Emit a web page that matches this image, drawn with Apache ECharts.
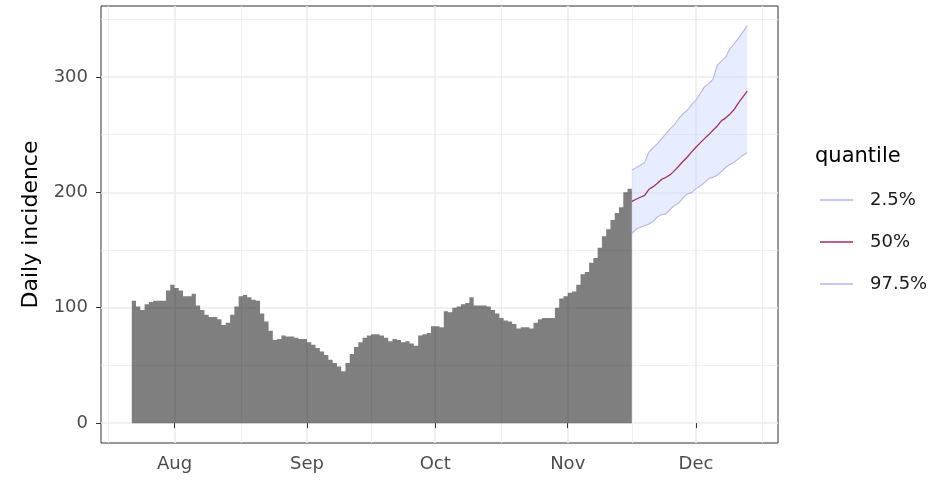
<!DOCTYPE html>
<html>
<head>
<meta charset="utf-8">
<script src="https://cdn.jsdelivr.net/npm/echarts@6/dist/echarts.min.js"></script>
<style>
  html, body { margin: 0; padding: 0; background: #ffffff; }
  #chart { width: 941px; height: 481px; }
</style>
</head>
<body>
<div id="chart"></div>
<script>
// Observed daily incidence, one count per day from the first date
const firstDay = '2020-07-22';
const incidence = [
  106, 101, 98, 103, 105, 106, 106, 106, 115, 120,
  117, 115, 110, 110, 112, 102, 98, 94, 92, 92,
  90, 85, 87, 94, 101, 110, 111, 109, 107, 106,
  95, 88, 80, 72, 73, 76, 75, 75, 74, 73,
  73, 70, 68, 65, 62, 59, 55, 52, 49, 45,
  52, 60, 66, 70, 74, 76, 77, 77, 76, 74,
  71, 73, 72, 70, 71, 69, 67, 76, 77, 78,
  84, 84, 83, 97, 96, 100, 101, 103, 104, 109,
  102, 102, 102, 101, 98, 95, 91, 89, 88, 86,
  82, 83, 83, 82, 87, 90, 91, 91, 91, 100,
  108, 110, 113, 114, 120, 129, 131, 139, 143, 152,
  162, 168, 176, 182, 187, 200, 203
];

// Projected daily incidence quantiles, one value per day from projStart
const projStart = '2020-11-16';
const q025 = [164.2, 168.0, 169.7, 171.1, 172.6, 174.9, 178.7, 180.7, 181.3, 185.3,
              188.7, 190.8, 195.1, 198.6, 199.7, 203.2, 205.5, 208.4, 211.9, 213.0,
              214.7, 218.2, 221.7, 224.3, 226.3, 229.2, 232.1, 234.4];
const q500 = [192.2, 194.0, 195.7, 197.4, 202.6, 204.9, 207.8, 211.3, 213.0, 215.3,
              218.8, 222.8, 226.9, 230.6, 235.0, 239.0, 242.8, 246.5, 250.0, 253.8,
              257.5, 262.1, 264.5, 267.9, 272.0, 277.7, 282.6, 287.6];
const q975 = [219.1, 221.4, 223.4, 225.7, 235.0, 238.4, 242.2, 246.5, 250.9, 255.2,
              258.7, 263.9, 268.2, 271.1, 276.0, 279.8, 285.6, 291.3, 294.2, 298.0,
              310.1, 313.6, 317.3, 324.6, 328.9, 333.8, 339.0, 344.2];

const quantileNames = ['2.5%', '50%', '97.5%'];

// Axis breaks
const monthBreaks = ['2020-07-01', '2020-08-01', '2020-09-01', '2020-10-01', '2020-11-01', '2020-12-01', '2021-01-01'];
const monthLabels = ['Jul', 'Aug', 'Sep', 'Oct', 'Nov', 'Dec', 'Jan'];
const yBreaks = [0, 100, 200, 300];
const yMinorBreaks = [50, 150, 250, 350];

const DAY = 86400000;
const toTs = s => Date.parse(s + 'T00:00:00Z');

const t0 = toTs(firstDay);
const tp = toTs(projStart);

// bars cover [day, day + 1)
const barData = incidence.map((v, i) => [t0 + i * DAY + DAY / 2, v]);
const projX = q500.map((_, i) => tp + i * DAY);
const lowData = q025.map((v, i) => [projX[i], v]);
const midData = q500.map((v, i) => [projX[i], v]);
const highData = q975.map((v, i) => [projX[i], v]);

// ggplot-style 5% expansion
const xLo = t0, xHi = projX[projX.length - 1];
const xPad = (xHi - xLo) * 0.05;
const xMin = xLo - xPad, xMax = xHi + xPad;
const yTop = Math.max(...q975, ...incidence);
const yMin = -0.05 * yTop, yMax = yTop * 1.05;

const majorX = monthBreaks.map(toTs);
const minorX = majorX.slice(0, -1).map((t, i) => (t + majorX[i + 1]) / 2);
const shownMajorX = majorX.filter(t => t >= xMin && t <= xMax);
const shownMinorX = minorX.filter(t => t >= xMin && t <= xMax);

const gridLeft = 101, gridTop = 6, gridW = 677, gridH = 437;
const dayPx = gridW / ((xMax - xMin) / DAY);

const FONT = 'DejaVu Sans';
const monthName = ts => {
  const i = majorX.findIndex(t => Math.abs(t - ts) < DAY / 2);
  return i >= 0 ? monthLabels[i] : '';
};

const chart = echarts.init(document.getElementById('chart'), null, { renderer: 'canvas' });

const gridColor = '#ebebeb';
const bandColor = '#b3b3f2';
const medColor = '#a0325f';

// 2.5%–97.5% ribbon: one polygon along the upper quantile and back along the lower one
function renderRibbon(params, api) {
  if (params.dataIndex !== 0) return null;
  const upper = projX.map((t, i) => api.coord([t, q975[i]]));
  const lower = projX.map((t, i) => api.coord([t, q025[i]])).reverse();
  return {
    type: 'polygon',
    shape: { points: upper.concat(lower) },
    style: { fill: 'rgba(195,205,255,0.38)' },
    silent: true
  };
}

chart.setOption({
  animation: false,
  textStyle: { fontFamily: FONT },
  title: {
    text: 'quantile',
    left: 815, top: 146, padding: 0,
    textStyle: { fontFamily: FONT, fontSize: 21, fontWeight: 'normal', color: '#000' }
  },
  legend: {
    orient: 'vertical',
    left: 820, top: 191,
    padding: 0,
    itemWidth: 33, itemHeight: 1.5,
    itemGap: 24,
    icon: 'rect',
    selectedMode: false,
    data: quantileNames,
    textStyle: { fontFamily: FONT, fontSize: 18, color: '#1a1a1a', lineHeight: 18, padding: [0, 0, 0, 12] }
  },
  grid: {
    left: gridLeft, top: gridTop, width: gridW, height: gridH,
    show: true, borderColor: '#333333', borderWidth: 1, backgroundColor: 'transparent',
    containLabel: false
  },
  xAxis: [
    {
      type: 'value', min: xMin, max: xMax, scale: true,
      axisLine: { show: false },
      axisTick: { show: true, customValues: shownMajorX, length: 5, lineStyle: { color: '#333333', width: 1 } },
      axisLabel: {
        customValues: shownMajorX, formatter: v => monthName(v),
        color: '#4d4d4d', fontSize: 18, fontFamily: FONT, margin: 12
      },
      splitLine: { show: true, lineStyle: { color: gridColor, width: 1.5 } }
    },
    {
      type: 'value', min: xMin, max: xMax, scale: true, position: 'bottom',
      axisLine: { show: false },
      axisTick: { show: false, customValues: shownMinorX },
      axisLabel: { show: false, customValues: shownMinorX },
      splitLine: { show: true, lineStyle: { color: gridColor, width: 0.8 } }
    }
  ],
  yAxis: [
    {
      type: 'value', min: yMin, max: yMax,
      name: 'Daily incidence', nameLocation: 'middle', nameGap: 55,
      nameTextStyle: { fontFamily: FONT, fontSize: 22, color: '#000' },
      axisLine: { show: false },
      axisTick: { show: true, customValues: yBreaks, length: 5, lineStyle: { color: '#333333', width: 1 } },
      axisLabel: { customValues: yBreaks, color: '#4d4d4d', fontSize: 18, fontFamily: FONT, margin: 13 },
      splitLine: { show: true, lineStyle: { color: gridColor, width: 1.5 } }
    },
    {
      type: 'value', min: yMin, max: yMax, position: 'left',
      axisLine: { show: false },
      axisTick: { show: false, customValues: yMinorBreaks },
      axisLabel: { show: false, customValues: yMinorBreaks },
      splitLine: { show: true, lineStyle: { color: gridColor, width: 0.8 } }
    }
  ],
  series: [
    {
      // drawn as one path so neighbouring days join without seams
      name: 'incidence', type: 'bar', data: barData,
      barWidth: dayPx, barGap: '0%',
      large: true, largeThreshold: 20,
      itemStyle: { color: 'rgba(0,0,0,0.5)' },
      silent: true
    },
    {
      name: 'ribbon', type: 'custom', data: highData,
      renderItem: renderRibbon, silent: true, z: 1
    },
    {
      name: quantileNames[0], type: 'line', data: lowData, symbol: 'none',
      itemStyle: { color: bandColor }, lineStyle: { color: bandColor, width: 1.1 }, silent: true
    },
    {
      name: quantileNames[2], type: 'line', data: highData, symbol: 'none',
      itemStyle: { color: bandColor }, lineStyle: { color: bandColor, width: 1.1 }, silent: true
    },
    {
      name: quantileNames[1], type: 'line', data: midData, symbol: 'none',
      itemStyle: { color: medColor }, lineStyle: { color: medColor, width: 1.3 }, silent: true
    }
  ]
});
</script>
</body>
</html>
